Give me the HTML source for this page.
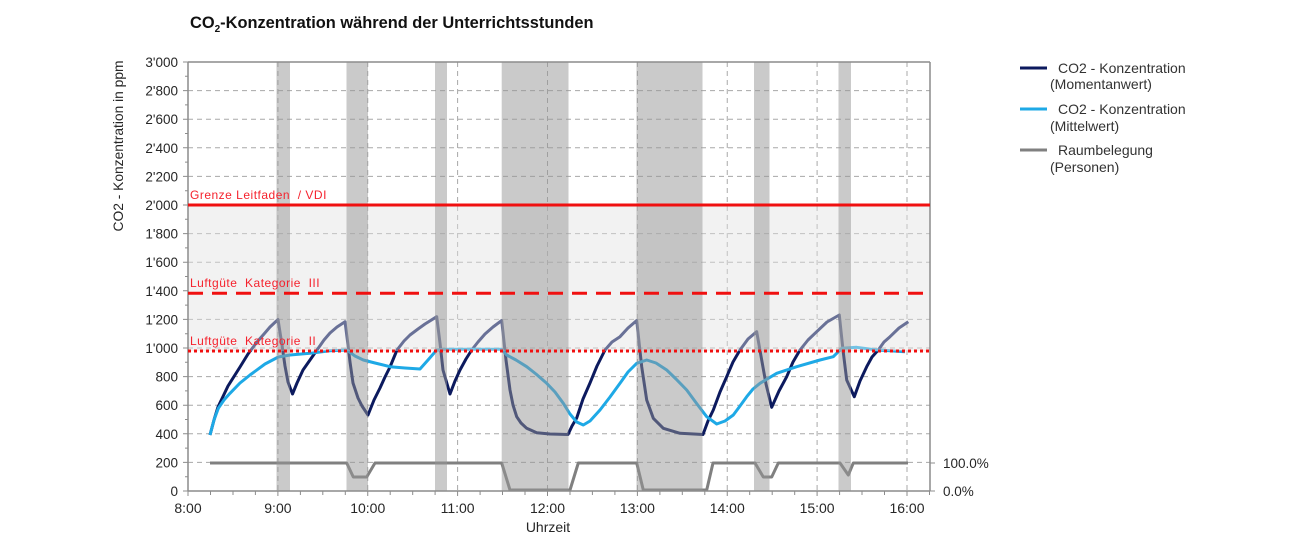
<!DOCTYPE html>
<html><head><meta charset="utf-8"><style>
html,body{margin:0;padding:0;background:#fff;}
svg{display:block;}
text{font-family:"Liberation Sans",Arial,sans-serif;}
</style></head><body>
<svg width="1300" height="554" viewBox="0 0 1300 554" xmlns="http://www.w3.org/2000/svg">
<rect width="1300" height="554" fill="#fff"/>

<!-- Title -->
<text x="190" y="28" font-size="16.4" font-weight="bold" fill="#111">CO<tspan font-size="10" dy="4">2</tspan><tspan dy="-4">-Konzentration während der Unterrichtsstunden</tspan></text>

<!-- gridlines -->
<g stroke="#a8a8a8" stroke-width="1" stroke-dasharray="5 4" fill="none">
<line x1="188" y1="90.6" x2="930" y2="90.6"/>
<line x1="188" y1="119.2" x2="930" y2="119.2"/>
<line x1="188" y1="147.8" x2="930" y2="147.8"/>
<line x1="188" y1="176.4" x2="930" y2="176.4"/>
<line x1="188" y1="233.6" x2="930" y2="233.6"/>
<line x1="188" y1="262.2" x2="930" y2="262.2"/>
<line x1="188" y1="319.4" x2="930" y2="319.4"/>
<line x1="188" y1="348" x2="930" y2="348"/>
<line x1="188" y1="376.6" x2="930" y2="376.6"/>
<line x1="188" y1="405.2" x2="930" y2="405.2"/>
<line x1="188" y1="433.8" x2="930" y2="433.8"/>
<line x1="188" y1="462.4" x2="930" y2="462.4"/>
<line x1="277.9" y1="62" x2="277.9" y2="491"/>
<line x1="367.75" y1="62" x2="367.75" y2="491"/>
<line x1="457.6" y1="62" x2="457.6" y2="491"/>
<line x1="547.5" y1="62" x2="547.5" y2="491"/>
<line x1="637.4" y1="62" x2="637.4" y2="491"/>
<line x1="727.25" y1="62" x2="727.25" y2="491"/>
<line x1="817.1" y1="62" x2="817.1" y2="491"/>
<line x1="907" y1="62" x2="907" y2="491"/>
</g>

<!-- occupancy -->
<polyline fill="none" stroke="#808080" stroke-width="3" stroke-linejoin="round" points="210,463 346.7,463 353.3,477 366.7,477 375,463 501.7,463 510,490 570,490 578.3,463 636.7,463 643.3,490 706.7,490 713,463 755,463 763.3,477 771.7,477 778.3,463 840,463 848.3,475 853.3,463 908,463"/>

<!-- dark CO2 momentary -->
<polyline fill="none" stroke="#0c1a5e" stroke-width="3" stroke-linejoin="round" points="210,435 214,420 218,407 228,386 240,367 248,354 257,342 264,334 270,327 278,319.5 282,345 285,366 288,382 292.5,394 297,383 303,370 310,360 317,350 324,340 330,333 337,327 345,321.7 348,345 350,362 353,383 358,398 362,406 368,415 374,400 380,388 385,377 390,367 397,350 404,341 410,335 418,329 425,324 436.7,316.7 440,343 443,370 450,394 455,381 460,370 466,359 471.7,350 478,342 485,334 493,327 501.7,320.5 506,360 510,390 513,405 516.7,416.7 521,423 526.7,428.3 536.7,432.7 550,434 568,434.5 572,426 576.7,418 583,399 590,383 597,366 605,350 612,342 620,336.7 628,328 636.7,320.5 641.7,366.7 646.7,400 653.3,418.3 663.3,428.3 680,433.3 703,434.5 708,421 713.3,410 720,392 726.7,376.7 733,362 740,350 748,339 756.7,331.7 761.7,360 766,384 771.7,407.3 779,391 786.7,376.7 793,362 800,350 808,340 816.7,331.7 827,322 839.3,315 843,350 846.7,380 854.3,396.7 860,381 866.7,366.7 872,357 878.3,350 884,342 890,336.7 899,328 908.3,321.7"/>

<!-- light blue CO2 mean -->
<polyline fill="none" stroke="#1ea9e6" stroke-width="3" stroke-linejoin="round" points="210,435 214,420 218.3,408.3 224,400 230,393.3 240,383 250,375 265,364 278.3,357 290,355 310,353.3 330,350.7 346.7,350 355,356 363.3,360 375,363 390,366.7 405,368 420,369 428,360 436.7,350 445,349.3 501.7,349.3 506.7,355 516,360 526.7,366.7 536,374 546.7,383.3 555,392 563.3,403.3 570,414 576.7,422 583.3,425 590,421 600,410 610,397 620,383.3 628,372 636.7,363.3 646.7,360 656,363 666.7,370 676,379 686.7,390 697,404 706.7,416.7 716.7,424 725,421 733.3,415 740,406 746.7,396.7 753,389 760,383.3 776.7,373.3 796.7,366.7 820,360 833.3,356.7 841.7,348.3 856.7,347.3 876.7,350 905,351.7"/>

<!-- light gray zone overlay -->
<rect x="188" y="205" width="742" height="146" fill="rgb(225,225,225)" fill-opacity="0.44"/>

<!-- dark gray bands -->
<g fill="rgb(150,150,150)" fill-opacity="0.5">
<rect x="276.5" y="62" width="13.5" height="429"/>
<rect x="346.5" y="62" width="21.5" height="429"/>
<rect x="435" y="62" width="12" height="429"/>
<rect x="501.7" y="62" width="66.8" height="429"/>
<rect x="636.5" y="62" width="66" height="429"/>
<rect x="754" y="62" width="15.5" height="429"/>
<rect x="838.5" y="62" width="12.5" height="429"/>
</g>

<!-- axes frame -->
<g stroke="#8c8c8c" stroke-width="1.5" fill="none">
<line x1="188" y1="62" x2="930" y2="62"/>
<line x1="188" y1="62" x2="188" y2="491"/>
<line x1="930" y1="62" x2="930" y2="491"/>
<line x1="188" y1="491" x2="930" y2="491"/>
</g>
<!-- ticks -->
<g stroke="#8c8c8c" stroke-width="1">
<path d="M183 62H188M183 90.6H188M183 119.2H188M183 147.8H188M183 176.4H188M183 205H188M183 233.6H188M183 262.2H188M183 290.8H188M183 319.4H188M183 348H188M183 376.6H188M183 405.2H188M183 433.8H188M183 462.4H188M183 491H188"/>
<path d="M185 76.3H188M185 104.9H188M185 133.5H188M185 162.1H188M185 190.7H188M185 219.3H188M185 247.9H188M185 276.5H188M185 305.1H188M185 333.7H188M185 362.3H188M185 390.9H188M185 419.5H188M185 448.1H188M185 476.7H188"/>
<path d="M930 463H935M930 491H935"/>
<path d="M188 491V496M210.5 491V495M233 491V495M255.4 491V495M277.9 491V496M300.4 491V495M322.8 491V495M345.3 491V495M367.75 491V496M390.2 491V495M412.7 491V495M435.1 491V495M457.6 491V496M480.1 491V495M502.5 491V495M525 491V495M547.5 491V496M570 491V495M592.4 491V495M614.9 491V495M637.4 491V496M659.9 491V495M682.3 491V495M704.8 491V495M727.25 491V496M749.7 491V495M772.2 491V495M794.7 491V495M817.1 491V496M839.6 491V495M862 491V495M884.5 491V495M907 491V496M929.5 491V495"/>
</g>

<!-- red limit lines -->
<line x1="188" y1="205" x2="930" y2="205" stroke="#f01010" stroke-width="3"/>
<line x1="188" y1="293.3" x2="930" y2="293.3" stroke="#f01010" stroke-width="3" stroke-dasharray="15 9"/>
<line x1="188" y1="351" x2="930" y2="351" stroke="#f01010" stroke-width="3" stroke-dasharray="3 3"/>

<g font-size="12" fill="#f5222d" letter-spacing="0.5" style="white-space:pre">
<text x="190" y="199" xml:space="preserve">Grenze Leitfaden  / VDI</text>
<text x="190" y="287" xml:space="preserve">Luftgüte  Kategorie  III</text>
<text x="190" y="345" xml:space="preserve">Luftgüte  Kategorie  II</text>
</g>

<!-- y tick labels -->
<g font-size="13.5" fill="#262626" text-anchor="end">
<text x="178" y="67">3'000</text>
<text x="178" y="95.6">2'800</text>
<text x="178" y="124.2">2'600</text>
<text x="178" y="152.8">2'400</text>
<text x="178" y="181.4">2'200</text>
<text x="178" y="210">2'000</text>
<text x="178" y="238.6">1'800</text>
<text x="178" y="267.2">1'600</text>
<text x="178" y="295.8">1'400</text>
<text x="178" y="324.4">1'200</text>
<text x="178" y="353">1'000</text>
<text x="178" y="381.6">800</text>
<text x="178" y="410.2">600</text>
<text x="178" y="438.8">400</text>
<text x="178" y="467.4">200</text>
<text x="178" y="496">0</text>
</g>

<!-- right axis labels -->
<g font-size="13.5" fill="#262626">
<text x="943" y="468">100.0%</text>
<text x="943" y="496">0.0%</text>
</g>

<!-- x tick labels -->
<g font-size="14" fill="#262626" text-anchor="middle">
<text x="188" y="513">8:00</text>
<text x="277.9" y="513">9:00</text>
<text x="367.75" y="513">10:00</text>
<text x="457.6" y="513">11:00</text>
<text x="547.5" y="513">12:00</text>
<text x="637.4" y="513">13:00</text>
<text x="727.25" y="513">14:00</text>
<text x="817.1" y="513">15:00</text>
<text x="907" y="513">16:00</text>
</g>
<text x="548" y="532" font-size="14" fill="#262626" text-anchor="middle">Uhrzeit</text>

<!-- y axis title -->
<text transform="translate(123,146) rotate(-90)" font-size="13.8" fill="#262626" text-anchor="middle">CO2 - Konzentration in ppm</text>

<!-- legend -->
<line x1="1020" y1="68" x2="1047" y2="68" stroke="#0c1a5e" stroke-width="3"/>
<line x1="1020" y1="109" x2="1047" y2="109" stroke="#1ea9e6" stroke-width="3"/>
<line x1="1020" y1="150" x2="1047" y2="150" stroke="#808080" stroke-width="3"/>
<g font-size="14" fill="#333">
<text x="1058" y="73">CO2 - Konzentration</text>
<text x="1050" y="89">(Momentanwert)</text>
<text x="1058" y="114">CO2 - Konzentration</text>
<text x="1050" y="131">(Mittelwert)</text>
<text x="1058" y="155">Raumbelegung</text>
<text x="1050" y="172">(Personen)</text>
</g>
</svg>
</body></html>
